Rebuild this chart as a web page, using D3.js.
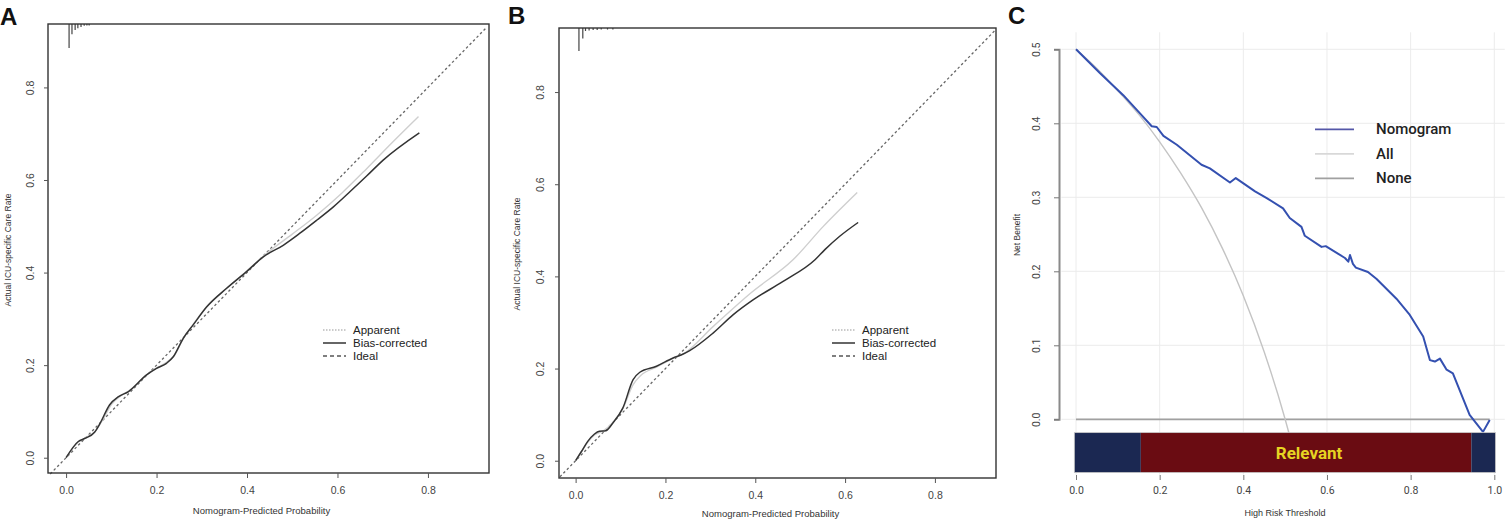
<!DOCTYPE html>
<html>
<head>
<meta charset="utf-8">
<script src="https://cdn.jsdelivr.net/npm/d3@7"></script>
<style>
  body { margin: 0; background: #fff; }
  svg { display: block; }
</style>
</head>
<body>
<svg id="chart" width="1512" height="520"></svg>
<script>
// ---- data ----
// Panel A: calibration (training)
const calA_apparent = [
  [0, 0], [0.027, 0.034], [0.045, 0.044], [0.065, 0.058], [0.08, 0.08], [0.1, 0.115],
  [0.12, 0.133], [0.14, 0.145], [0.18, 0.181], [0.2, 0.194], [0.222, 0.206], [0.24, 0.222],
  [0.26, 0.259], [0.28, 0.287], [0.31, 0.325], [0.355, 0.366], [0.4, 0.404], [0.443, 0.441],
  [0.5, 0.483], [0.554, 0.524], [0.61, 0.572], [0.665, 0.625], [0.72, 0.68], [0.779, 0.737]
];
const calA_corrected = [
  [0, 0], [0.027, 0.035], [0.042, 0.042], [0.063, 0.055], [0.075, 0.074], [0.096, 0.114],
  [0.116, 0.132], [0.138, 0.143], [0.178, 0.179], [0.2, 0.193], [0.222, 0.204], [0.237, 0.218],
  [0.259, 0.258], [0.281, 0.287], [0.311, 0.326], [0.355, 0.366], [0.399, 0.402], [0.436, 0.434],
  [0.48, 0.459], [0.517, 0.485], [0.554, 0.513], [0.591, 0.542], [0.628, 0.575], [0.665, 0.609],
  [0.701, 0.643], [0.781, 0.702]
];
const calA_ideal = [[-0.035, -0.035], [0.93, 0.93]];
const rugA_x = [0.0066, 0.013, 0.02, 0.026, 0.033, 0.04, 0.046, 0.051];
const rugA_h = [0.052, 0.022, 0.013, 0.009, 0.0065, 0.004, 0.003, 0.003];

// Panel B: calibration (validation)
const calB_apparent = [
  [0, 0], [0.013, 0.02], [0.027, 0.04], [0.042, 0.056], [0.06, 0.064], [0.083, 0.083],
  [0.105, 0.113], [0.128, 0.165], [0.145, 0.185], [0.18, 0.203], [0.217, 0.222], [0.24, 0.232],
  [0.306, 0.291], [0.39, 0.364], [0.484, 0.436], [0.551, 0.508], [0.627, 0.582]
];
const calB_corrected = [
  [0, 0], [0.013, 0.02], [0.027, 0.042], [0.042, 0.058], [0.053, 0.064], [0.067, 0.065],
  [0.083, 0.082], [0.105, 0.114], [0.128, 0.176], [0.143, 0.192], [0.18, 0.205], [0.217, 0.223],
  [0.236, 0.23], [0.254, 0.239], [0.306, 0.277], [0.351, 0.317], [0.395, 0.349], [0.462, 0.389],
  [0.533, 0.436], [0.555, 0.458], [0.588, 0.487], [0.629, 0.517]
];
const calB_ideal = [[-0.035, -0.035], [0.935, 0.935]];
const rugB_x = [0.0074, 0.016, 0.022, 0.03, 0.039, 0.048, 0.057, 0.071, 0.083];
const rugB_h = [0.05, 0.023, 0.0065, 0.0054, 0.0043, 0.0043, 0.0033, 0.0033, 0.0033];

const calTicks = [0, 0.2, 0.4, 0.6, 0.8];
const calLegend = ["Apparent", "Bias-corrected", "Ideal"];

// Panel C: decision curve
const dcaNomogram = [
  [0, 0.5], [0.057, 0.468], [0.113, 0.438], [0.153, 0.4135], [0.181, 0.396], [0.193, 0.395],
  [0.209, 0.383], [0.241, 0.371], [0.3, 0.344], [0.32, 0.339], [0.368, 0.32], [0.382, 0.326],
  [0.428, 0.308], [0.456, 0.299], [0.495, 0.285], [0.511, 0.272], [0.539, 0.26], [0.547, 0.248],
  [0.587, 0.233], [0.597, 0.234], [0.643, 0.218], [0.651, 0.213], [0.655, 0.222], [0.662, 0.21],
  [0.669, 0.205], [0.698, 0.199], [0.718, 0.19], [0.766, 0.163], [0.798, 0.141], [0.83, 0.112],
  [0.846, 0.08], [0.858, 0.078], [0.87, 0.082], [0.886, 0.067], [0.901, 0.062], [0.941, 0.006],
  [0.973, -0.017], [0.989, -0.001]
];
const dcaAll = [
  [0, 0.5], [0.05, 0.474], [0.1, 0.444], [0.15, 0.412], [0.2, 0.375], [0.25, 0.333],
  [0.3, 0.286], [0.35, 0.231], [0.4, 0.167], [0.45, 0.091], [0.5, 0], [0.52, -0.042]
];
const dcaNone = [[0, 0], [0.989, 0]];
const dcaXTicks = [0, 0.2, 0.4, 0.6, 0.8, 1.0];
const dcaYTicks = [0, 0.1, 0.2, 0.3, 0.4, 0.5];
const dcaLegend = ["Nomogram", "All", "None"];
const relevantSegments = [
  { from: -0.004, to: 0.155, kind: "out" },
  { from: 0.155, to: 0.945, kind: "in" },
  { from: 0.945, to: 1.003, kind: "out" }
];
const relevantBand = [-0.018, -0.072];
const relevantLabel = "Relevant";

// ---- drawing ----
const svg = d3.select("#chart");
const rFont = "'Liberation Sans', Arial, sans-serif";
const cFont = "Roboto, 'Noto Sans', sans-serif";

function panelLetter(text, x, y) {
  svg.append("text")
    .attr("x", x).attr("y", y)
    .attr("font-family", rFont)
    .attr("font-weight", "bold")
    .attr("font-size", 24)
    .attr("fill", "#111")
    .text(text);
}

// 校准曲线面板
function drawCalibration(cfg) {
  const x = d3.scaleLinear().domain(cfg.xDomain).range(cfg.xRange);
  const y = d3.scaleLinear().domain(cfg.yDomain).range(cfg.yRange);
  const g = svg.append("g");
  const line = d3.line().x(d => x(d[0])).y(d => y(d[1])).curve(d3.curveMonotoneX);
  const straight = d3.line().x(d => x(d[0])).y(d => y(d[1]));

  // rug / histogram of predictions at top
  const top = cfg.yDomain[1];
  g.selectAll(".rug")
    .data(cfg.rugX.map((v, i) => [v, cfg.rugH[i]]))
    .join("line")
    .attr("x1", d => x(d[0])).attr("x2", d => x(d[0]))
    .attr("y1", y(top)).attr("y2", d => y(top - d[1]))
    .attr("stroke", "#444").attr("stroke-width", 1.2);

  g.append("path").datum(cfg.ideal)
    .attr("d", straight).attr("fill", "none")
    .attr("stroke", "#666").attr("stroke-width", 1.3)
    .attr("stroke-dasharray", "2.5,2.5");

  g.append("path").datum(cfg.apparent)
    .attr("d", line).attr("fill", "none")
    .attr("stroke", "#cfcfcf").attr("stroke-width", 1.4);

  g.append("path").datum(cfg.corrected)
    .attr("d", line).attr("fill", "none")
    .attr("stroke", "#333").attr("stroke-width", 1.5);

  // box
  g.append("rect")
    .attr("x", cfg.xRange[0]).attr("y", cfg.yRange[1])
    .attr("width", cfg.xRange[1] - cfg.xRange[0])
    .attr("height", cfg.yRange[0] - cfg.yRange[1])
    .attr("fill", "none").attr("stroke", "#333").attr("stroke-width", 1.4);

  // axes
  const xAxis = g.append("g")
    .attr("transform", `translate(0,${cfg.yRange[0]})`)
    .call(d3.axisBottom(x).tickValues(calTicks).tickSize(5).tickPadding(9).tickFormat(d3.format(".1f")));
  const yAxis = g.append("g")
    .attr("transform", `translate(${cfg.xRange[0]},0)`)
    .call(d3.axisLeft(y).tickValues(calTicks).tickSize(4).tickPadding(0).tickFormat(d3.format(".1f")));
  [xAxis, yAxis].forEach(a => {
    a.select(".domain").remove();
    a.selectAll("line").attr("stroke", "#555");
    a.selectAll("text").attr("font-family", rFont).attr("font-size", 10.5).attr("fill", "#444");
  });
  yAxis.selectAll("text")
    .attr("x", null).attr("dy", null)
    .attr("text-anchor", "middle")
    .attr("transform", `translate(${cfg.yTickX - cfg.xRange[0]},0) rotate(-90)`)
    .attr("y", 0);

  g.append("text")
    .attr("x", d3.mean(cfg.xRange) - 7).attr("y", cfg.xTitleY)
    .attr("text-anchor", "middle")
    .attr("font-family", rFont).attr("font-size", 9.5).attr("fill", "#333")
    .text("Nomogram-Predicted Probability");
  g.append("text")
    .attr("transform", `translate(${cfg.yTitleX},${cfg.yTitleY}) rotate(-90)`)
    .attr("text-anchor", "middle")
    .attr("font-family", rFont).attr("font-size", 8.5).attr("fill", "#333")
    .text("Actual ICU-specific Care Rate");

  // legend
  const styles = [
    { stroke: "#bbb", dash: "1.5,1.5", w: 1.3 },
    { stroke: "#333", dash: null, w: 1.5 },
    { stroke: "#555", dash: "4,3", w: 1.3 }
  ];
  const lg = g.append("g").attr("transform", `translate(${cfg.legendX},${cfg.legendY})`);
  calLegend.forEach((name, i) => {
    lg.append("line")
      .attr("x1", 0).attr("x2", 23).attr("y1", i * 13).attr("y2", i * 13)
      .attr("stroke", styles[i].stroke).attr("stroke-width", styles[i].w)
      .attr("stroke-dasharray", styles[i].dash);
    lg.append("text")
      .attr("x", 30).attr("y", i * 13 + 4)
      .attr("font-family", rFont).attr("font-size", 11.5).attr("fill", "#222")
      .text(name);
  });
}

// 决策曲线面板
function drawDCA() {
  const x = d3.scaleLinear().domain([0, 1]).range([1076, 1494.3]);
  const y = d3.scaleLinear().domain([0, 0.5]).range([419.3, 49.3]);
  const g = svg.append("g");

  // grid
  g.selectAll(".vgrid").data(dcaXTicks).join("line")
    .attr("x1", d => x(d)).attr("x2", d => x(d))
    .attr("y1", y(0.523)).attr("y2", y(-0.075))
    .attr("stroke", "#ececec").attr("stroke-width", 1);
  g.selectAll(".hgrid").data(dcaYTicks).join("line")
    .attr("x1", x(-0.035)).attr("x2", x(1.025))
    .attr("y1", d => y(d)).attr("y2", d => y(d))
    .attr("stroke", "#ececec").attr("stroke-width", 1);

  const line = d3.line().x(d => x(d[0])).y(d => y(d[1]));
  const smooth = d3.line().x(d => x(d[0])).y(d => y(d[1])).curve(d3.curveMonotoneX);

  g.append("path").datum(dcaNone).attr("d", line)
    .attr("fill", "none").attr("stroke", "#a0a0a0").attr("stroke-width", 1.8);
  g.append("path").datum(dcaAll).attr("d", smooth)
    .attr("fill", "none").attr("stroke", "#c4c4c4").attr("stroke-width", 1.4);
  g.append("path").datum(dcaNomogram).attr("d", line)
    .attr("fill", "none").attr("stroke", "#3450b0").attr("stroke-width", 2)
    .attr("stroke-linejoin", "round");

  // relevant band
  const color = { out: "#1b2852", in: "#6a0c12" };
  g.selectAll(".seg").data(relevantSegments).join("rect")
    .attr("x", d => x(d.from)).attr("width", d => x(d.to) - x(d.from))
    .attr("y", y(relevantBand[0])).attr("height", y(relevantBand[1]) - y(relevantBand[0]))
    .attr("fill", d => color[d.kind]);
  g.append("rect")
    .attr("x", x(relevantSegments[0].from)).attr("y", y(relevantBand[0]))
    .attr("width", x(relevantSegments[2].to) - x(relevantSegments[0].from))
    .attr("height", y(relevantBand[1]) - y(relevantBand[0]))
    .attr("fill", "none").attr("stroke", "#c8c8c8").attr("stroke-width", 0.8);
  const mid = relevantSegments[1];
  g.append("text")
    .attr("x", x((mid.from + mid.to) / 2) + 3)
    .attr("y", y(d3.mean(relevantBand)) + 6)
    .attr("text-anchor", "middle")
    .attr("font-family", cFont).attr("font-weight", "bold").attr("font-size", 17)
    .attr("fill", "#e6d422")
    .text(relevantLabel);

  // axes
  const xAxis = g.append("g")
    .attr("transform", "translate(0,475)")
    .call(d3.axisBottom(x).tickValues(dcaXTicks).tickSize(5).tickPadding(7).tickFormat(d3.format(".1f")));
  xAxis.select(".domain").remove();
  const yAxis = g.append("g")
    .attr("transform", "translate(1059,0)")
    .call(d3.axisLeft(y).tickValues(dcaYTicks).tickSize(5).tickFormat(d3.format(".1f")));
  yAxis.select(".domain").attr("stroke", "#8a8a8a").attr("stroke-width", 2);
  [xAxis, yAxis].forEach(a => {
    a.selectAll("line").attr("stroke", "#777");
    a.selectAll("text").attr("font-family", cFont).attr("font-size", 10.5).attr("fill", "#444");
  });
  yAxis.selectAll("text")
    .attr("x", null).attr("dy", null).attr("y", 0)
    .attr("text-anchor", "middle")
    .attr("transform", "translate(-19,0) rotate(-90)");

  g.append("text")
    .attr("x", 1285).attr("y", 516)
    .attr("text-anchor", "middle")
    .attr("font-family", rFont).attr("font-size", 9).attr("fill", "#333")
    .text("High Risk Threshold");
  g.append("text")
    .attr("transform", "translate(1020,235) rotate(-90)")
    .attr("text-anchor", "middle")
    .attr("font-family", rFont).attr("font-size", 8.5).attr("fill", "#333")
    .text("Net Benefit");

  // legend
  const lc = ["#5457a8", "#d8d8d8", "#a0a0a0"];
  const lg = g.append("g").attr("transform", "translate(1315,129.3)");
  dcaLegend.forEach((name, i) => {
    lg.append("line")
      .attr("x1", 0).attr("x2", 39).attr("y1", i * 24.5).attr("y2", i * 24.5)
      .attr("stroke", lc[i]).attr("stroke-width", 1.8);
    lg.append("text")
      .attr("x", 61).attr("y", i * 24.5 + 5)
      .attr("font-family", cFont).attr("font-weight", 500).attr("font-size", 15)
      .attr("fill", "#222")
      .text(name);
  });
}

drawCalibration({
  xDomain: [-0.04, 0.935], xRange: [48, 489],
  yDomain: [-0.033, 0.937], yRange: [473, 24],
  apparent: calA_apparent, corrected: calA_corrected, ideal: calA_ideal,
  rugX: rugA_x, rugH: rugA_h,
  yTickX: 34, xTitleY: 514, yTitleX: 11, yTitleY: 250,
  legendX: 323, legendY: 330
});
drawCalibration({
  xDomain: [-0.037, 0.936], xRange: [559, 996],
  yDomain: [-0.0375, 0.939], yRange: [478, 28],
  apparent: calB_apparent, corrected: calB_corrected, ideal: calB_ideal,
  rugX: rugB_x, rugH: rugB_h,
  yTickX: 544, xTitleY: 517, yTitleX: 520, yTitleY: 254,
  legendX: 832, legendY: 330
});
drawDCA();

panelLetter("A", 0, 25);
panelLetter("B", 508, 24);
panelLetter("C", 1008, 24);
</script>
</body>
</html>
